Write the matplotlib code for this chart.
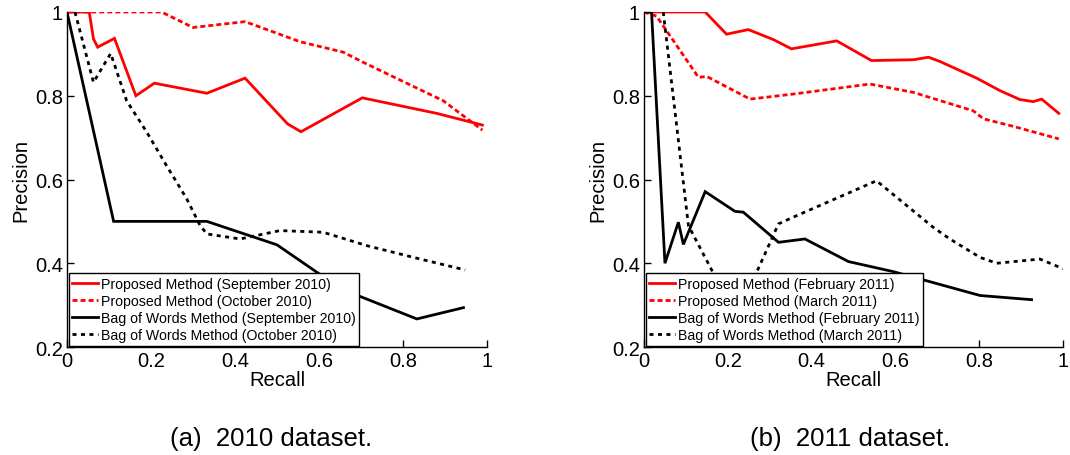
import matplotlib
matplotlib.use("Agg")
import matplotlib.pyplot as plt
from matplotlib.ticker import FixedLocator, FixedFormatter

plt.rcParams['font.family'] = ['Liberation Sans', 'DejaVu Sans']

# ---- 2010 dataset ----
a_prop_sep_x = [0.0, 0.053, 0.063, 0.073, 0.113, 0.164, 0.208, 0.333, 0.424, 0.525, 0.557, 0.703, 0.88, 0.989]
a_prop_sep_y = [1.0, 1.0, 0.936, 0.916, 0.937, 0.80, 0.83, 0.806, 0.842, 0.733, 0.714, 0.795, 0.758, 0.730]

a_prop_oct_x = [0.0, 0.225, 0.30, 0.424, 0.555, 0.658, 0.705, 0.896, 0.989]
a_prop_oct_y = [1.0, 1.0, 0.963, 0.977, 0.929, 0.904, 0.88, 0.788, 0.718]

a_bow_sep_x = [0.0, 0.111, 0.333, 0.5, 0.6, 0.667, 0.833, 0.944]
a_bow_sep_y = [1.0, 0.5, 0.5, 0.444, 0.375, 0.333, 0.267, 0.294]

a_bow_oct_x = [0.019, 0.063, 0.104, 0.142, 0.19, 0.237, 0.285, 0.317, 0.333, 0.412, 0.507, 0.61, 0.714, 0.833, 0.948]
a_bow_oct_y = [1.0, 0.832, 0.901, 0.788, 0.713, 0.633, 0.554, 0.49, 0.47, 0.458, 0.478, 0.474, 0.442, 0.412, 0.384]

# ---- 2011 dataset ----
b_prop_feb_x = [0.0, 0.146, 0.197, 0.249, 0.309, 0.352, 0.46, 0.543, 0.643, 0.679, 0.706, 0.794, 0.85, 0.897, 0.929, 0.949, 0.99]
b_prop_feb_y = [1.0, 1.0, 0.947, 0.958, 0.934, 0.912, 0.931, 0.884, 0.886, 0.892, 0.882, 0.842, 0.812, 0.791, 0.786, 0.792, 0.758]

b_prop_mar_x = [0.0, 0.03, 0.054, 0.13, 0.15, 0.253, 0.356, 0.539, 0.643, 0.786, 0.81, 0.881, 0.99]
b_prop_mar_y = [1.0, 0.99, 0.955, 0.844, 0.846, 0.792, 0.804, 0.828, 0.808, 0.764, 0.745, 0.727, 0.697]

b_bow_feb_x = [0.0, 0.018, 0.05, 0.082, 0.094, 0.146, 0.217, 0.237, 0.321, 0.384, 0.488, 0.595, 0.802, 0.925]
b_bow_feb_y = [1.0, 1.0, 0.4, 0.498, 0.445, 0.571, 0.524, 0.522, 0.45, 0.458, 0.404, 0.380, 0.323, 0.313]

b_bow_mar_x = [0.046, 0.106, 0.162, 0.22, 0.269, 0.321, 0.356, 0.555, 0.69, 0.73, 0.802, 0.842, 0.945, 1.0]
b_bow_mar_y = [1.0, 0.49, 0.383, 0.29, 0.379, 0.494, 0.51, 0.597, 0.486, 0.458, 0.414, 0.40, 0.41, 0.387]

labels_a = ["Proposed Method (September 2010)", "Proposed Method (October 2010)",
            "Bag of Words Method (September 2010)", "Bag of Words Method (October 2010)"]
labels_b = ["Proposed Method (February 2011)", "Proposed Method (March 2011)",
            "Bag of Words Method (February 2011)", "Bag of Words Method (March 2011)"]
captions = ["(a)  2010 dataset.", "(b)  2011 dataset."]

xticks = [0, 0.2, 0.4, 0.6, 0.8, 1]
xticklabels = ["0", "0.2", "0.4", "0.6", "0.8", "1"]
yticks = [0.2, 0.4, 0.6, 0.8, 1]
yticklabels = ["0.2", "0.4", "0.6", "0.8", "1"]

RED = "#ff0000"
BLACK = "#000000"
DASH = (0, (1.8, 1.1))
DOT = (0, (1.45, 1.6))
LW = 2.0

fig = plt.figure(figsize=(10.7, 4.56), dpi=100)
ax_a = fig.add_axes([67/1070, 1-348/456, 420/1070, 335/456])
ax_b = fig.add_axes([644/1070, 1-348/456, 419/1070, 335/456])

series_a = [(a_prop_sep_x, a_prop_sep_y, RED, '-'), (a_prop_oct_x, a_prop_oct_y, RED, DASH),
            (a_bow_sep_x, a_bow_sep_y, BLACK, '-'), (a_bow_oct_x, a_bow_oct_y, BLACK, DOT)]
series_b = [(b_prop_feb_x, b_prop_feb_y, RED, '-'), (b_prop_mar_x, b_prop_mar_y, RED, DASH),
            (b_bow_feb_x, b_bow_feb_y, BLACK, '-'), (b_bow_mar_x, b_bow_mar_y, BLACK, DOT)]

for ax, series, labels, cap, cx in [(ax_a, series_a, labels_a, captions[0], 271),
                                     (ax_b, series_b, labels_b, captions[1], 850)]:
    for (x, y, c, ls), lab in zip(series, labels):
        ax.plot(x, y, color=c, linestyle=ls, linewidth=LW, label=lab, solid_joinstyle='miter')
    ax.set_xlim(0, 1)
    ax.set_ylim(0.2, 1)
    ax.xaxis.set_major_locator(FixedLocator(xticks))
    ax.xaxis.set_major_formatter(FixedFormatter(xticklabels))
    ax.yaxis.set_major_locator(FixedLocator(yticks))
    ax.yaxis.set_major_formatter(FixedFormatter(yticklabels))
    ax.spines['top'].set_visible(False)
    ax.spines['right'].set_visible(False)
    for s in ['left', 'bottom']:
        ax.spines[s].set_linewidth(1.0)
    ax.tick_params(direction='in', length=5, width=1, labelsize=14.5, pad=3)
    ax.set_xlabel("Recall", fontsize=14.5, labelpad=0)
    ax.set_ylabel("Precision", fontsize=14.5, labelpad=3)
    leg = ax.legend(loc='lower left', bbox_to_anchor=(0.004, 0.003), borderaxespad=0,
                    fontsize=10.2, labelspacing=0.22, borderpad=0.26, handlelength=1.8,
                    handletextpad=0.2, fancybox=False, framealpha=1, edgecolor='black')
    leg.get_frame().set_linewidth(1.0)
    fig.text(cx/1070, 1-439/456, cap, ha='center', va='center', fontsize=18.5)

fig.savefig("out.png", dpi=100)
